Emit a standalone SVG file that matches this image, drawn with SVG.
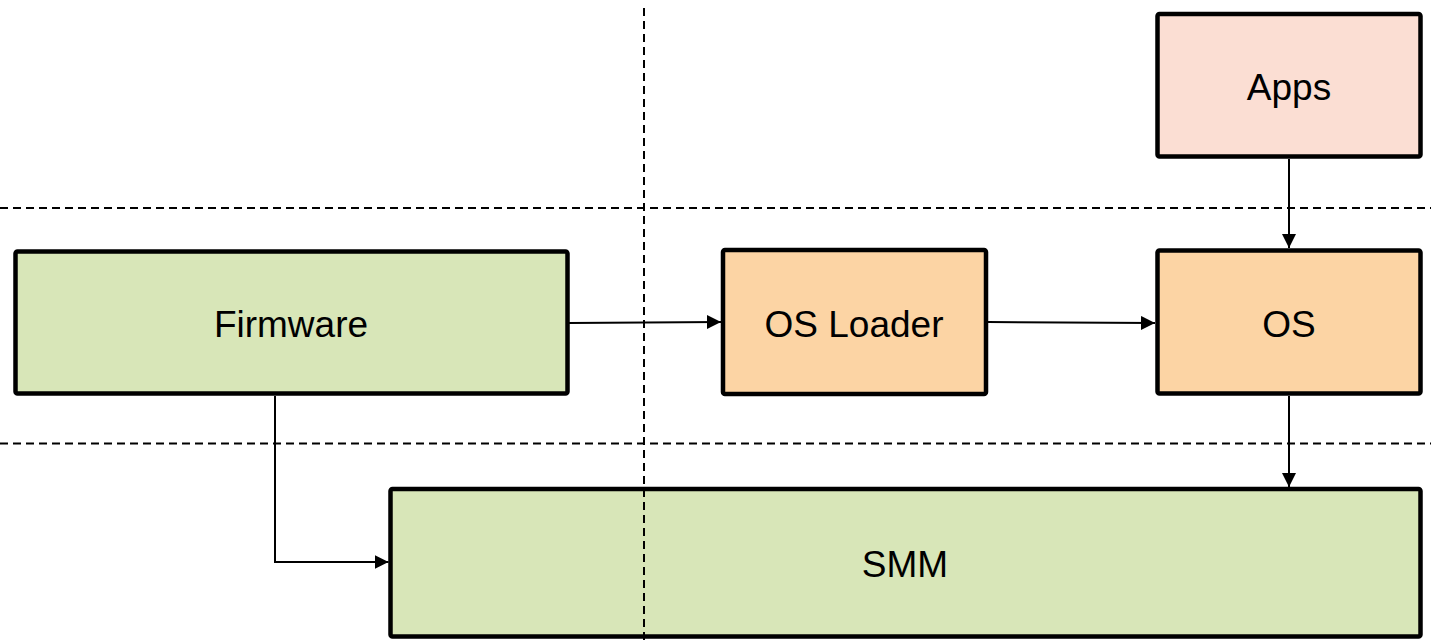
<svg xmlns="http://www.w3.org/2000/svg" width="1431" height="644" viewBox="0 0 1431 644">
  <style>
    .box { stroke: #000; stroke-width: 4.5; }
    .green { fill: #d8e6b8; }
    .orange { fill: #fcd4a4; }
    .pink { fill: #fbded3; }
    .label { font-family: "Liberation Sans", Arial, sans-serif; font-size: 37px; fill: #000; text-anchor: middle; }
    .divider { stroke: #000; stroke-width: 2; stroke-dasharray: 8 5; fill: none; }
    .link { stroke: #000; stroke-width: 2; fill: none; marker-end: url(#arrow); }
  </style>
  <defs>
    <marker id="arrow" markerUnits="userSpaceOnUse" markerWidth="15" markerHeight="15" refX="14" refY="7" orient="auto">
      <path d="M0,0 L14,7 L0,14 z" fill="#000"/>
    </marker>
  </defs>
  <rect width="1431" height="644" fill="#fff"/>

  <g id="connectors">
    <path class="link" d="M569,323 L721,322"/>
    <path class="link" d="M988,322 L1155,323"/>
    <path class="link" d="M1289,159 L1289,248"/>
    <path class="link" d="M1289,396 L1289,487"/>
    <path class="link" d="M275,396 L275,562 L388.5,562"/>
  </g>

  <g id="firmware">
    <rect class="box green" x="15.5" y="251.5" width="552" height="142" rx="2"/>
    <text class="label" x="291" y="337">Firmware</text>
  </g>
  <g id="os-loader">
    <rect class="box orange" x="723" y="250" width="263" height="144" rx="2"/>
    <text class="label" x="854" y="337">OS Loader</text>
  </g>
  <g id="os">
    <rect class="box orange" x="1157.5" y="250.5" width="263" height="143" rx="2"/>
    <text class="label" x="1289" y="337">OS</text>
  </g>
  <g id="apps">
    <rect class="box pink" x="1157.5" y="14" width="263" height="142.5" rx="2"/>
    <text class="label" x="1289" y="100">Apps</text>
  </g>
  <g id="smm">
    <rect class="box green" x="390.5" y="489" width="1030" height="147.5" rx="2"/>
    <text class="label" x="905" y="577">SMM</text>
  </g>

  <!-- layer dividers, drawn on top of the boxes -->
  <g id="dividers">
    <line class="divider" x1="0" y1="208" x2="1431" y2="208"/>
    <line class="divider" x1="0" y1="443.5" x2="1431" y2="443.5"/>
    <line class="divider" x1="644" y1="8" x2="644" y2="644"/>
  </g>
</svg>
